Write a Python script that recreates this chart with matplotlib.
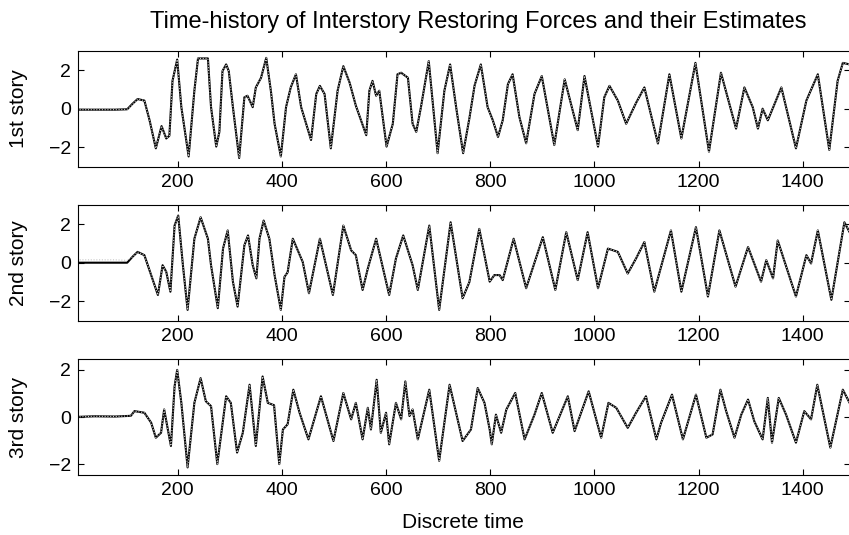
import numpy as np
import matplotlib
matplotlib.use("Agg")
import matplotlib.pyplot as plt

plt.rcParams["font.family"] = ["Liberation Sans", "DejaVu Sans"]

# values (time step, force)
t1 = [1, 40, 80, 103, 113, 123, 136, 146, 158, 169, 178, 184, 190, 199, 207, 221, 232, 239, 258,
      264, 274, 280, 286, 293, 298, 306, 318, 328, 334, 344, 350, 360, 370, 379, 386, 398, 408,
      417, 427, 437, 456, 466, 473, 482, 494, 507, 518, 530, 542, 562, 568, 574, 581, 587, 601,
      613, 622, 629, 642, 651, 658, 667, 682, 699, 712, 723, 735, 748, 760, 770, 782, 795, 805,
      815, 824, 834, 843, 856, 869, 885, 899, 923, 943, 968, 981, 1007, 1019, 1029, 1045, 1061,
      1080, 1096, 1122, 1144, 1167, 1194, 1220, 1243, 1272, 1288, 1304, 1314, 1323, 1333, 1346,
      1359, 1387, 1407, 1429, 1451, 1467, 1477, 1490]
f1 = [-0.05, -0.05, -0.05, -0.03, 0.25, 0.5, 0.42, -0.6, -2.05, -0.9, -1.54, -1.4, 1.44, 2.54,
      0.08, -2.47, 0.93, 2.6, 2.6, 0.08, -1.96, -1.2, 1.95, 2.29, 1.95, 0.08, -2.55, 0.59, 0.67,
      0.08, 1.1, 1.6, 2.63, 0.9, -0.78, -2.47, 0.08, 1.1, 1.78, 0.08, -1.62, 0.76, 1.18, 0.76,
      -2.05, 0.93, 2.2, 1.35, 0.16, -1.37, 0.93, 1.44, 0.67, 0.93, -1.96, -0.78, 1.78, 1.86, 1.6,
      -0.78, -1.2, 0.08, 2.46, -2.3, 0.93, 2.29, 0.0, -2.3, -0.5, 1.2, 2.29, 0.08, -0.6, -1.46,
      -0.6, 1.27, 1.78, -0.43, -1.79, 0.76, 1.69, -1.88, 1.52, -1.11, 1.69, -1.96, 0.59, 1.18,
      0.42, -0.78, 0.3, 1.1, -1.8, 1.78, -1.54, 2.37, -2.22, 1.86, -1.03, 1.1, 0.08, -1.03, 0.0,
      -0.6, 0.25, 1.1, -2.05, 0.42, 1.78, -2.13, 1.44, 2.37, 2.29]

t2 = [1, 40, 80, 103, 113, 123, 136, 149, 162, 171, 178, 186, 194, 201, 210, 219, 232, 244, 258,
      264, 277, 287, 296, 306, 315, 328, 335, 344, 351, 357, 365, 376, 386, 398, 405, 411, 421,
      440, 452, 473, 498, 518, 533, 542, 555, 565, 581, 606, 619, 633, 651, 661, 683, 702, 724,
      747, 760, 779, 799, 808, 818, 824, 845, 869, 901, 925, 946, 968, 987, 1007, 1026, 1045,
      1064, 1080, 1096, 1115, 1147, 1167, 1195, 1218, 1240, 1271, 1295, 1320, 1330, 1343, 1352,
      1387, 1407, 1416, 1429, 1455, 1480, 1490]
f2 = [0.0, 0.0, 0.0, 0.0, 0.3, 0.56, 0.39, -0.64, -1.67, -0.13, -0.47, -1.5, 1.92, 2.44, -0.13,
      -2.44, 1.24, 2.35, 1.24, -0.13, -2.35, 0.73, 1.67, -0.98, -2.27, 0.9, 1.41, -0.13, -0.81,
      1.24, 2.18, 1.24, -0.64, -2.44, -0.73, -0.5, 1.24, 0.04, -1.58, 1.24, -1.67, 1.92, 0.64,
      0.39, -1.41, -0.3, 1.24, -1.67, 0.22, 1.41, -0.13, -1.41, 1.92, -2.44, 2.09, -1.84, -1.0,
      1.75, -0.98, -0.64, -0.64, -0.9, 1.24, -1.32, 1.32, -1.41, 1.58, -0.9, 1.58, -1.32, 0.73,
      0.56, -0.56, 0.22, 1.07, -1.5, 1.67, -1.5, 1.84, -1.75, 1.67, -1.24, 0.81, -0.98, 0.13,
      -0.81, 1.15, -1.75, 0.39, -0.04, 1.67, -1.92, 2.09, 1.58]
# estimate sits a bit above the measured force before the shaking starts
est2_start = [0.15, 0.15, 0.15, 0.12]

t3 = [1, 40, 80, 110, 117, 136, 149, 158, 168, 174, 181, 187, 194, 199, 207, 219, 232, 244, 254,
      264, 276, 293, 302, 314, 325, 338, 350, 363, 373, 385, 395, 402, 411, 422, 434, 451, 475,
      499, 518, 533, 542, 555, 565, 571, 582, 590, 600, 606, 619, 629, 637, 645, 651, 661, 683,
      702, 722, 747, 763, 776, 789, 799, 803, 811, 821, 831, 848, 866, 885, 899, 920, 949, 962,
      989, 1013, 1027, 1042, 1064, 1080, 1099, 1119, 1128, 1149, 1170, 1195, 1215, 1227, 1242,
      1253, 1269, 1282, 1295, 1307, 1323, 1333, 1341, 1354, 1368, 1387, 1403, 1416, 1428, 1453,
      1477, 1490]
f3 = [0.0, 0.03, 0.02, 0.05, 0.25, 0.18, -0.24, -0.88, -0.67, 0.32, -0.52, -1.23, 1.3, 2.0, 0.6,
      -2.14, 0.6, 1.65, 0.67, 0.46, -2.0, 0.88, 0.6, -1.51, -0.67, 1.37, -1.23, 1.72, 0.6, 0.5,
      -2.0, -0.53, -0.31, 1.16, 0.18, -0.95, 0.88, -1.02, 1.02, -0.1, 0.6, -0.95, 0.39, -0.53,
      1.58, -0.67, 0.18, -1.16, 0.6, -0.1, 1.51, 0.04, 0.32, -0.95, 1.16, -1.86, 1.37, -1.02,
      -0.53, 1.23, 0.6, -0.53, -1.16, 0.1, -0.67, 0.32, 1.02, -0.95, 0.1, 1.02, -0.67, 0.88,
      -0.6, 1.09, -0.88, 0.6, 0.39, -0.46, 0.18, 0.88, -0.95, -0.25, 0.95, -0.95, 0.95, -0.88,
      -0.74, 1.16, 0.25, -0.88, 0.1, 0.74, -0.18, -0.95, 0.81, -1.09, 0.81, 0.1, -1.09, 0.25,
      -0.1, 1.37, -1.3, 1.16, 0.6]

labels = ["1st story", "2nd story", "3rd story"]
ylims = [(-3, 3), (-3, 3), (-2.45, 2.45)]
xticks = [200, 400, 600, 800, 1000, 1200, 1400]

est2 = list(f2)
est2[:len(est2_start)] = est2_start
series = [(t1, f1, f1), (t2, f2, est2), (t3, f3, f3)]

W, H = 849, 535
fig = plt.figure(figsize=(W / 100, H / 100), dpi=100)

# axes boxes in pixels: (top, bottom)
boxes = [(50.7, 166.7), (204.7, 320.7), (359.3, 474.7)]
left_px, right_px = 77.7, 849.6
aw = right_px - left_px

for i, (top, bot) in enumerate(boxes):
    ax = fig.add_axes([left_px / W, 1 - bot / H, aw / W, (bot - top) / H])
    t, f, est = series[i]
    ax.plot(t, f, color="black", lw=1.5, solid_joinstyle="round")
    ax.plot(t, est, color="#c8c8c8", lw=0.8, ls=(0, (1, 1.5)))
    ax.set_xlim(8, 1490)
    ax.set_ylim(*ylims[i])
    ax.set_xticks(xticks)
    ax.set_yticks([-2, 0, 2])
    ax.set_ylabel(labels[i], fontsize=15, va="center")
    ax.yaxis.set_label_coords((18 - left_px) / aw, 0.5)
    ax.tick_params(direction="in", length=4, top=True, right=True, labelsize=14, pad=5)
    for s in ax.spines.values():
        s.set_linewidth(0.8)
    if i == 2:
        ax.set_xlabel("Discrete time", fontsize=15, va="center")
        ax.xaxis.set_label_coords((463 - left_px) / aw, (bot - 522) / (bot - top))

fig.text(478 / W, 1 - 22 / H, "Time-history of Interstory Restoring Forces and their Estimates",
         ha="center", va="center", fontsize=17)

fig.savefig("out.png", dpi=100)
